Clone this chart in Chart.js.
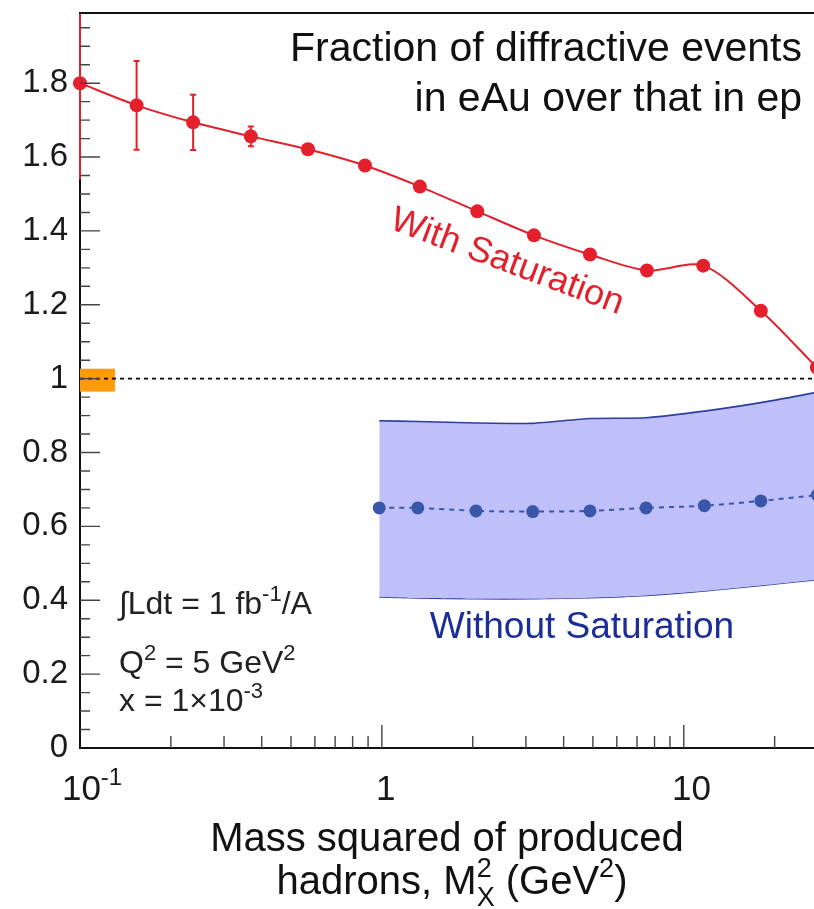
<!DOCTYPE html>
<html><head><meta charset="utf-8">
<script src="https://cdn.jsdelivr.net/npm/chart.js@4.4.1/dist/chart.umd.min.js"></script>
<style>html,body{margin:0;padding:0;background:#fff;overflow:hidden}canvas{display:block}</style>
</head><body>
<canvas id="c" width="814" height="909"></canvas>
<script>
// ---- data ----
const satX    = [0.1, 0.154, 0.237, 0.368, 0.569, 0.879, 1.336, 2.07, 3.19, 4.89, 7.55, 11.6, 18.0, 27.6];
const satY    = [1.80, 1.74, 1.694, 1.656, 1.621, 1.577, 1.520, 1.453, 1.388, 1.336, 1.293, 1.306, 1.184, 1.03];
const satErr  = [0.26, 0.12, 0.075, 0.027, 0.01, 0.01, 0.01, 0.01, 0.01, 0.01, 0.01, 0.01, 0.01, 0.01];

const noSatX  = [0.98, 1.315, 2.05, 3.16, 4.89, 7.5, 11.7, 18.0, 27.7];
const noSatY  = [0.650, 0.650, 0.642, 0.640, 0.642, 0.650, 0.656, 0.669, 0.685];
const bandHi  = [0.886, 0.884, 0.880, 0.879, 0.892, 0.894, 0.912, 0.935, 0.963];
const bandLo  = [0.409, 0.406, 0.404, 0.404, 0.407, 0.413, 0.425, 0.440, 0.456];

const normBoxX = [0.1, 0.1306];
const normBoxY = [0.965, 1.027];
const refLineY = 1;

const xMin = 0.1, xMax = 27, yMin = 0, yMax = 1.99;
const xTickValues = [0.1, 1, 10];
const xTickLabels = ['10^{-1}', '1', '10'];
const xMinorTicks = [0.2,0.3,0.4,0.5,0.6,0.7,0.8,0.9,2,3,4,5,6,7,8,9,20];
const yStep = 0.2, yMinorStep = 0.05;

const titleLines = ['Fraction of diffractive events', 'in eAu over that in ep'];
const xTitleLines = ['Mass squared of produced', 'hadrons, M_{X}^{2} (GeV^{2})'];
const infoLines = ['\u222BLdt = 1 fb^{-1}/A', 'Q^{2} = 5 GeV^{2}', 'x = 1\u00D710^{-3}'];
const satLabel = 'With Saturation';
const noSatLabel = 'Without Saturation';

const FONT = '"Liberation Sans", Arial, Helvetica, sans-serif';
const RED = '#e3202b', BLUE = '#3a56a8', BAND = '#bfc0fa', BANDEDGE = '#2c3f9c', LABELBLUE = '#1b2d98';

// ---- rich text helper: ^{..} superscript, _{..} subscript (stacked when sub followed by sup)
function parseRich(s){
  const out=[]; let i=0, buf='';
  while(i<s.length){
    if((s[i]==='^'||s[i]==='_') && s[i+1]==='{'){
      if(buf){out.push({t:buf,m:0});buf='';}
      const j=s.indexOf('}',i); out.push({t:s.slice(i+2,j),m:s[i]==='^'?1:2}); i=j+1;
    } else {buf+=s[i]; i++;}
  }
  if(buf) out.push({t:buf,m:0});
  const res=[];
  for(let k=0;k<out.length;k++){
    if(out[k].m===2 && out[k+1] && out[k+1].m===1){res.push({sub:out[k].t,sup:out[k+1].t,m:3});k++;}
    else res.push(out[k]);
  }
  return res;
}
function richWidth(ctx, parts, size){
  let w=0;
  for(const p of parts){
    if(p.m===0){ctx.font=size+'px '+FONT; w+=ctx.measureText(p.t).width;}
    else if(p.m===3){ctx.font=Math.round(size*0.68)+'px '+FONT; w+=Math.max(ctx.measureText(p.sub).width,ctx.measureText(p.sup).width);}
    else {ctx.font=Math.round(size*0.68)+'px '+FONT; w+=ctx.measureText(p.t).width;}
  }
  return w;
}
function drawRich(ctx, str, x, y, size, align, color){
  const parts=parseRich(str);
  const w=richWidth(ctx,parts,size);
  let cx = align==='center'? x-w/2 : align==='right'? x-w : x;
  ctx.save(); ctx.fillStyle=color; ctx.textAlign='left'; ctx.textBaseline='alphabetic';
  const small=Math.round(size*0.68);
  for(const p of parts){
    if(p.m===0){ctx.font=size+'px '+FONT; ctx.fillText(p.t,cx,y); cx+=ctx.measureText(p.t).width;}
    else if(p.m===1){ctx.font=small+'px '+FONT; ctx.fillText(p.t,cx,y-size*0.42); cx+=ctx.measureText(p.t).width;}
    else if(p.m===2){ctx.font=small+'px '+FONT; ctx.fillText(p.t,cx,y+size*0.28); cx+=ctx.measureText(p.t).width;}
    else {ctx.font=small+'px '+FONT; ctx.fillText(p.sup,cx,y-size*0.42); ctx.fillText(p.sub,cx,y+size*0.3);
      cx+=Math.max(ctx.measureText(p.sub).width,ctx.measureText(p.sup).width);}
  }
  ctx.restore();
  return w;
}

const pts = (xs, ys) => xs.map((x,i)=>({x, y: ys[i]}));

const deco = {
  id: 'deco',
  beforeDatasetsDraw(chart){
    const {ctx, chartArea:a, scales:{x, y}} = chart;
    ctx.save();
    ctx.fillStyle = '#ff9a0a';
    const bx0 = x.getPixelForValue(normBoxX[0]), bx1 = x.getPixelForValue(normBoxX[1]);
    const by0 = y.getPixelForValue(normBoxY[1]), by1 = y.getPixelForValue(normBoxY[0]);
    ctx.fillRect(bx0, by0, bx1-bx0, by1-by0);
    ctx.restore();
  },
  afterDatasetsDraw(chart){
    const {ctx, chartArea:a, scales:{x, y}} = chart;
    ctx.save();
    ctx.strokeStyle = '#000'; ctx.lineWidth = 1.6; ctx.setLineDash([4,4]);
    const yy = y.getPixelForValue(refLineY);
    ctx.beginPath(); ctx.moveTo(a.left, yy); ctx.lineTo(a.right, yy); ctx.stroke();
    ctx.restore();
    ctx.save();
    ctx.beginPath(); ctx.rect(a.left-10, a.top, a.right-a.left+20, a.bottom-a.top); ctx.clip();
    ctx.strokeStyle=RED; ctx.lineWidth=2;
    satX.forEach((v,i)=>{
      const px=x.getPixelForValue(v);
      const p0=y.getPixelForValue(satY[i]-satErr[i]), p1=y.getPixelForValue(satY[i]+satErr[i]);
      ctx.beginPath(); ctx.moveTo(px,p0); ctx.lineTo(px,p1); ctx.stroke();
      if(i>0 && satErr[i]>0.02){ctx.beginPath(); ctx.moveTo(px-3,p0); ctx.lineTo(px+3,p0); ctx.moveTo(px-3,p1); ctx.lineTo(px+3,p1); ctx.stroke();}
    });
    ctx.restore();
  },
  afterDraw(chart){
    const {ctx, chartArea:a, scales:{x, y}} = chart;
    ctx.save();
    ctx.strokeStyle='#111'; ctx.lineWidth=2;
    ctx.beginPath(); ctx.moveTo(a.left-1, a.top); ctx.lineTo(a.right, a.top); ctx.stroke();
    ctx.strokeStyle='#444'; ctx.lineWidth=1.4;
    ctx.beginPath();
    for(const v of xTickValues){const px=x.getPixelForValue(v); if(v===xMin) continue; ctx.moveTo(px,a.bottom); ctx.lineTo(px,a.bottom-23);}
    for(const v of xMinorTicks){const px=x.getPixelForValue(v); ctx.moveTo(px,a.bottom); ctx.lineTo(px,a.bottom-12);}
    for(let k=1; k*yMinorStep<=yMax+1e-9; k++){
      const v=k*yMinorStep;
      const py=y.getPixelForValue(v);
      const major = (k % Math.round(yStep/yMinorStep))===0;
      ctx.moveTo(a.left,py); ctx.lineTo(a.left+(major?20:10),py);
    }
    ctx.stroke();
    ctx.restore();
    xTickValues.forEach((v,i)=>{
      const parts=parseRich(xTickLabels[i]); const w=richWidth(ctx,parts,35);
      drawRich(ctx, xTickLabels[i], x.getPixelForValue(v)+0.2*w, 800, 35, 'center', '#1a1a1a');
    });
    drawRich(ctx, xTitleLines[0], (a.left+a.right)/2, 851, 40, 'center', '#111');
    drawRich(ctx, xTitleLines[1], (a.left+a.right)/2+5, 894, 40, 'center', '#111');
    drawRich(ctx, titleLines[0], 802, 61, 41, 'right', '#111');
    drawRich(ctx, titleLines[1], 802, 111, 41, 'right', '#111');
    drawRich(ctx, infoLines[0], 119, 614, 32, 'left', '#222');
    drawRich(ctx, infoLines[1], 119, 673, 32, 'left', '#222');
    drawRich(ctx, infoLines[2], 119, 711, 32, 'left', '#222');
    ctx.save();
    ctx.translate(507, 262); ctx.rotate(20.5*Math.PI/180);
    ctx.font='36px '+FONT; ctx.fillStyle=RED; ctx.textAlign='center'; ctx.textBaseline='middle';
    ctx.fillText(satLabel,0,0);
    ctx.restore();
    drawRich(ctx, noSatLabel, 582, 638, 37, 'center', LABELBLUE);
  }
};

new Chart(document.getElementById('c'), {
  type: 'line',
  data: {
    datasets: [
      {label:'sat', order: 0, data: pts(satX, satY), borderColor: RED, borderWidth: 2, pointRadius: 7, pointBackgroundColor: RED, pointBorderWidth: 0, tension: 0.3, fill: false, clip: {left: 10, top: 0, right: 0, bottom: 0}},
      {label:'noSat', order: 1, data: pts(noSatX, noSatY), borderColor: BLUE, borderWidth: 2, borderDash: [5,5], pointRadius: 6.5, pointBackgroundColor: BLUE, pointBorderWidth: 0, tension: 0.3, fill: false},
      {label:'bandHi', order: 2, data: pts(noSatX, bandHi), borderColor: BANDEDGE, borderWidth: 1.6, pointRadius: 0, fill: '+1', backgroundColor: BAND, tension: 0.2},
      {label:'bandLo', order: 3, data: pts(noSatX, bandLo), borderColor: BANDEDGE, borderWidth: 1.6, pointRadius: 0, fill: false, tension: 0.2}
    ]
  },
  options: {
    responsive: false, animation: false, devicePixelRatio: 1,
    layout: {autoPadding: false, padding: {top: 13, right: 0, left: 0, bottom: 0}},
    plugins: {legend: {display: false}, tooltip: {enabled: false}},
    scales: {
      x: {
        type: 'logarithmic', min: xMin, max: xMax,
        grid: {display: false, drawTicks: false},
        border: {display: true, color: '#111', width: 2},
        ticks: {display: false},
        afterFit(s){ s.height = 161; s.paddingLeft = 0; s.paddingRight = 0; }
      },
      y: {
        min: yMin, max: yMax,
        grid: {display: false, drawTicks: false},
        border: {display: true, color: '#111', width: 2},
        ticks: {stepSize: yStep, padding: 12, color: '#1a1a1a', font: {size: 33, family: FONT},
          callback: v => String(+v.toFixed(1))},
        afterBuildTicks(s){ s.ticks = s.ticks.filter(t => Math.abs(t.value/yStep - Math.round(t.value/yStep)) < 1e-6); },
        afterFit(s){ s.width = 80; s.paddingTop = 0; s.paddingBottom = 0; }
      }
    }
  },
  plugins: [deco]
});
</script>
</body></html>
